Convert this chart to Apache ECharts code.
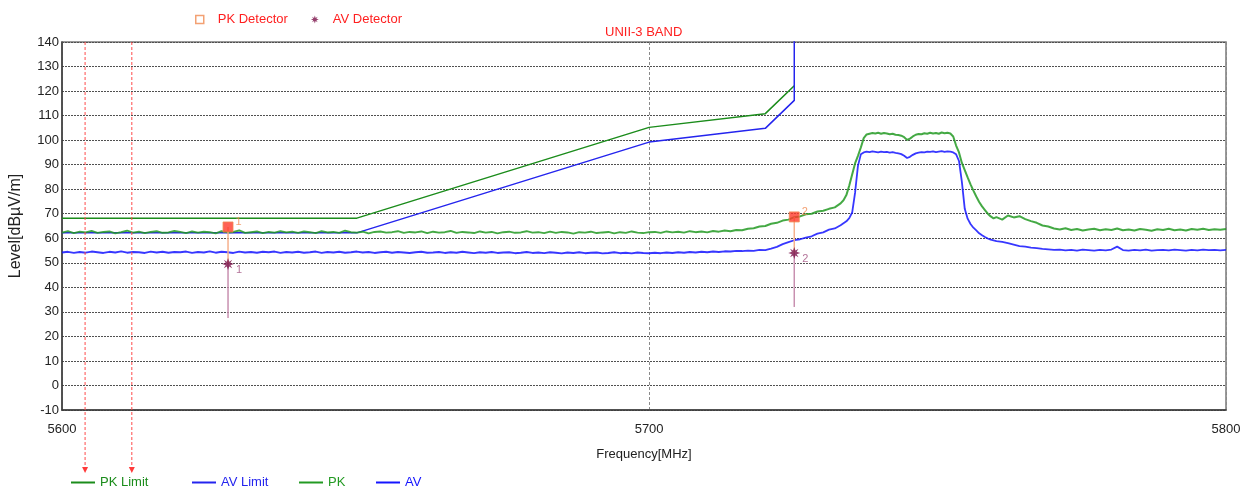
<!DOCTYPE html>
<html><head><meta charset="utf-8">
<script src="https://cdn.jsdelivr.net/npm/echarts@6/dist/echarts.min.js"></script>
<style>html,body{margin:0;padding:0;background:#fff}#c{width:1244px;height:489px}</style>
</head><body><div id="c"></div>
<script>
// ---------- DATA ----------
const freq = [
5600,5601,5602,5603,5604,5605,5606,5607,5608,5609,
5610,5611,5612,5613,5614,5615,5616,5617,5618,5619,
5620,5621,5622,5623,5624,5625,5626,5627,5628,5629,
5630,5631,5632,5633,5634,5635,5636,5637,5638,5639,
5640,5641,5642,5643,5644,5645,5646,5647,5648,5649,
5650,5651,5652,5653,5654,5655,5656,5657,5658,5659,
5660,5661,5662,5663,5664,5665,5666,5667,5668,5669,
5670,5671,5672,5673,5674,5675,5676,5677,5678,5679,
5680,5681,5682,5683,5684,5685,5686,5687,5688,5689,
5690,5691,5692,5693,5694,5695,5696,5697,5698,5699,5700,
5701,5702,5703,5704,5705,5706,5707,5708,5709,5710,
5711,5712,5713,5714,5715,5716,5717,5718,5719,5720,
5721,5722,5723,5724,5725,5726,5727,5728,5729,5730,
5731,5732,5733,
5733.5,5734,5734.5,5735,5735.5,5736,5736.5,5737,5737.5,5738,
5738.5,5739,5739.5,5740,5740.5,5741,5741.5,5742,5742.5,5743,
5743.5,5744,5744.5,5745,5745.5,5746,5746.5,5747,5747.5,5748,
5748.5,5749,5749.5,5750,5750.5,5751,5751.5,5752,5752.5,5753,
5753.5,5754,5754.5,5755,5755.5,5756,5756.5,5757,5757.5,5758,
5758.5,5759,5759.5,5760,
5761,5762,5763,5764,5765,5766,5767,5768,5769,5770,
5771,5772,5773,5774,5775,5776,5777,5778,5779,5780,
5781,5782,5783,5784,5785,5786,5787,5788,5789,5790,
5791,5792,5793,5794,5795,5796,5797,5798,5799,5800
];
const pk = [
62.3,62.9,62.1,62.7,62.4,63.0,62.2,62.6,62.8,62.0,62.5,63.1,62.3,62.7,62.1,62.6,62.9,62.2,62.4,63.0,
62.6,62.1,62.8,62.3,62.7,62.5,62.0,62.9,62.4,62.6,63.2,62.2,62.5,62.8,62.1,62.6,62.3,62.9,62.4,62.7,
62.2,62.8,62.5,62.1,62.9,62.4,62.6,62.2,63.1,62.5,62.3,62.7,62.0,62.6,62.8,62.3,62.5,62.9,62.2,62.6,
62.4,62.8,62.1,62.7,62.3,62.5,63.0,62.2,62.6,62.4,62.1,62.8,62.3,62.6,62.0,62.5,62.7,62.2,62.4,62.9,
62.3,62.5,62.1,62.7,62.2,62.6,62.4,61.9,62.5,62.3,62.7,62.1,62.4,62.6,62.0,62.5,62.2,62.8,62.3,62.1,62.5,
62.6,62.2,62.8,62.4,62.7,62.3,62.9,62.5,62.8,62.4,63.0,62.7,63.2,62.9,63.4,63.3,63.9,64.1,64.8,65.0,
65.9,66.3,67.2,67.6,68.6,68.9,69.8,70.0,70.9,71.2,72.0,72.6,74.2,
75.5,77.6,81.5,86.0,90.5,93.6,97.0,100.8,102.3,102.6,
102.9,102.7,103.0,102.6,102.9,102.7,102.4,102.6,102.2,102.1,
101.8,101.2,100.1,100.6,101.5,102.2,102.5,102.4,102.8,102.6,
103.0,102.7,102.9,102.6,103.1,102.8,103.0,102.7,101.5,97.8,
95.0,90.7,87.8,84.8,82.0,79.4,77.0,74.8,73.0,71.5,
70.0,68.9,68.1,68.6,
67.6,69.3,68.5,69.0,67.8,67.0,66.3,65.2,64.8,64.0,
63.6,64.1,63.4,63.8,63.2,63.6,63.9,63.3,63.7,63.4,
64.0,63.3,63.6,63.2,63.8,63.5,63.1,63.7,63.4,63.9,
63.3,63.6,63.2,63.8,63.5,63.9,63.4,63.7,63.5,63.8
];
const av = [
54.2,54.5,54.0,54.4,54.1,54.6,54.3,54.0,54.5,54.2,54.7,54.1,54.4,54.3,54.0,54.6,54.2,54.5,54.1,54.4,
54.3,54.6,54.0,54.4,54.2,54.7,54.1,54.5,54.3,54.0,54.6,54.2,54.4,54.1,54.5,54.3,54.6,54.0,54.4,54.2,
54.5,54.1,54.3,54.6,54.0,54.4,54.2,54.5,54.1,54.3,54.6,54.2,54.4,54.0,54.3,54.5,54.1,54.4,54.2,54.0,
54.3,54.5,54.1,54.2,54.4,54.0,54.3,54.1,54.5,54.2,53.9,54.3,54.1,54.4,54.0,54.2,54.3,53.9,54.1,54.4,
54.0,54.2,53.9,54.3,54.1,53.8,54.2,54.0,54.3,53.9,54.1,54.2,53.8,54.0,54.3,53.9,54.1,53.8,54.2,54.0,53.9,
54.1,53.9,54.2,54.0,54.3,54.1,54.4,54.2,54.5,54.3,54.6,54.4,54.7,54.6,54.9,54.8,55.0,54.9,55.3,55.2,
55.8,56.5,57.6,58.4,59.2,59.6,60.3,60.8,61.9,62.4,63.5,64.0,65.3,
66.1,66.9,68.2,70.5,78.5,89.5,94.2,95.0,95.3,95.1,
95.4,95.2,95.0,95.3,95.1,95.2,94.9,95.1,94.8,94.6,
94.3,93.6,92.7,93.2,94.0,94.6,94.9,95.1,95.0,95.3,
95.2,95.4,95.1,95.3,95.5,95.2,95.4,95.3,95.0,94.2,
91.5,83.0,72.0,68.0,65.8,64.3,63.2,62.0,61.2,60.5,
59.9,59.4,59.1,58.8,
58.5,58.0,57.4,56.8,56.6,56.2,56.0,55.7,55.5,55.3,
55.4,55.1,55.3,55.0,55.4,55.2,55.0,55.3,55.1,55.4,
56.6,55.2,55.0,55.3,55.1,55.4,55.0,55.2,55.3,55.1,
55.4,55.2,55.0,55.3,55.1,55.4,55.2,55.3,55.1,55.3
];
const pkLimitFreq  = [5600, 5650, 5700, 5720, 5725];
const pkLimitLevel = [68.2, 68.2, 105.2, 110.8, 122.2];
const avLimitFreq  = [5600, 5650, 5700, 5720, 5725, 5725];
const avLimitLevel = [62.2, 62.2, 99.2, 104.8, 116.2, 160];
const markerFreq    = [5628.1, 5725];
const pkMarkerLevel = [64.6, 68.7];
const avMarkerLevel = [49.5, 54.0];
const avStemEnd     = [27.5, 32.0];
const markerNames   = ['1', '2'];
const arrowFreq     = [5603.9, 5611.8];
const xTickValues   = [5600, 5700, 5800];
const yMin = -10, yMax = 140, yStep = 10;

// ---------- STYLE ----------
const FF = "'Liberation Sans', Arial, sans-serif";
const FS = 13;
const C_PKLIM='#1b8c1b', C_AVLIM='#2424ee', C_PK='#239a23', C_AV='#1414ff';
const C_PKM='#f08a50', C_AVM='#7a1048';
const starPath='path://M0,-10L2,-4L7,-7L4,-2L10,0L4,2L7,7L2,4L0,10L-2,4L-7,7L-4,2L-10,0L-4,-2L-7,-7L-2,-4Z';

const chart = echarts.init(document.getElementById('c'), null, {renderer:'canvas'});
const txt = (color, extra) => Object.assign({color:color, fontSize:FS, fontFamily:FF}, extra||{});

function bottomLegend(name, color, left){
  return {data:[{name:name, icon:'rect', textStyle:{color:color}}], left:left, top:476, padding:0,
    itemWidth:24, itemHeight:2, itemGap:0, selectedMode:false,
    textStyle:txt(color,{padding:[0,0,0,0]})};
}

const option = {
  animation:false,
  backgroundColor:'#fff',
  title:{text:'UNII-3 BAND', left:605, top:26, padding:0,
    textStyle:txt('#ff2020',{fontWeight:'normal'})},
  legend:[
    {data:[{name:'PK Detector', icon:'rect', itemStyle:{color:'#fff', borderColor:C_PKM, borderWidth:1.5}},
           {name:'AV Detector', icon:starPath, itemStyle:{color:C_AVM}}],
     left:195, top:13, padding:0, itemWidth:8, itemHeight:8, itemGap:23, selectedMode:false,
     textStyle:txt('#ff1f1f',{padding:[0,0,0,9]})},
    bottomLegend('PK Limit', C_PKLIM, 71),
    bottomLegend('AV Limit', C_AVLIM, 192),
    bottomLegend('PK', C_PK, 299),
    bottomLegend('AV', C_AV, 376)
  ],
  grid:{left:62, right:18, top:42, bottom:79, show:true, borderColor:'#7a7a7a', borderWidth:1.5,
    containLabel:false, outerBoundsMode:'none'},
  xAxis:{type:'log', logBase:10, min:5600, max:5800,
    name:'Frequency[MHz]', nameLocation:'middle', nameGap:38, nameTextStyle:txt('#222'),
    axisLine:{show:true, onZero:false, lineStyle:{color:'#3a3a3a', width:1.5}},
    axisTick:{show:false, customValues:xTickValues},
    axisLabel:{customValues:xTickValues, formatter:v=>String(Math.round(v)), margin:13, color:'#222', fontSize:FS, fontFamily:FF},
    splitLine:{show:true, lineStyle:{color:'#8a8a8a', type:[3,2], width:1}}
  },
  yAxis:{type:'value', min:yMin, max:yMax, interval:yStep,
    name:'Level[dBµV/m]', nameLocation:'middle', nameGap:38, nameRotate:90, nameTextStyle:txt('#222',{fontSize:16}),
    axisLine:{show:true, onZero:false, lineStyle:{color:'#3a3a3a', width:1.5}},
    axisTick:{show:false},
    axisLabel:{margin:3, color:'#222', fontSize:FS, fontFamily:FF},
    splitLine:{show:true, lineStyle:{color:'#505050', type:[2,1], width:1}}
  },
  series:[
    {name:'PK Limit', type:'line', symbol:'none', color:C_PKLIM, lineStyle:{width:1.5, color:C_PKLIM},
     data:pkLimitFreq.map((f,i)=>[f,pkLimitLevel[i]]), z:2},
    {name:'AV Limit', type:'line', symbol:'none', color:C_AVLIM, lineStyle:{width:1.5, color:C_AVLIM},
     data:avLimitFreq.map((f,i)=>[f,avLimitLevel[i]]), z:2},
    {name:'PK', type:'line', symbol:'none', color:C_PK, lineStyle:{width:2, color:C_PK, opacity:0.85},
     data:freq.map((f,i)=>[f,pk[i]]), z:3},
    {name:'AV', type:'line', symbol:'none', color:C_AV, lineStyle:{width:1.8, color:C_AV, opacity:0.85},
     data:freq.map((f,i)=>[f,av[i]]), z:3},
    {name:'stems', type:'custom', silent:true, z:4,
     data:markerFreq.map((f,i)=>[f,pkMarkerLevel[i],avMarkerLevel[i],avStemEnd[i]]),
     encode:{x:0, y:[1,2,3]},
     renderItem:function(params, api){
       const f=api.value(0);
       const p1=api.coord([f,api.value(1)]), p2=api.coord([f,api.value(2)]), p3=api.coord([f,api.value(3)]);
       return {type:'group', children:[
         {type:'line', shape:{x1:p1[0],y1:p1[1],x2:p2[0],y2:p2[1]}, style:{stroke:'#f6b08c', lineWidth:1.5}},
         {type:'line', shape:{x1:p2[0],y1:p2[1],x2:p3[0],y2:p3[1]}, style:{stroke:'#c890b0', lineWidth:1.5}}
       ]};
     }},
    {name:'PK Detector', type:'scatter', symbol:'rect', symbolSize:10, z:6,
     itemStyle:{color:'#ff3a2a', borderColor:C_PKM, borderWidth:1},
     data:markerFreq.map((f,i)=>[f,pkMarkerLevel[i]]),
     label:{show:true, position:'right', distance:2, offset:[0,-5], formatter:p=>markerNames[p.dataIndex], color:C_PKM, fontSize:11, fontFamily:FF}},
    {name:'AV Detector', type:'scatter', symbol:starPath, symbolSize:12, z:6,
     itemStyle:{color:C_AVM},
     data:markerFreq.map((f,i)=>[f,avMarkerLevel[i]]),
     label:{show:true, position:'right', distance:2, offset:[0,6], formatter:p=>markerNames[p.dataIndex], color:'#a05080', fontSize:11, fontFamily:FF}},
    {name:'arrows', type:'custom', silent:true, clip:false, z:7,
     data:arrowFreq.map(f=>[f,yMax]), encode:{x:0, y:1},
     renderItem:function(params, api){
       const p=api.coord([api.value(0), api.value(1)]);
       const yEnd=api.getHeight()-16;
       return {type:'group', children:[
         {type:'line', shape:{x1:p[0],y1:p[1],x2:p[0],y2:yEnd-5}, style:{stroke:'#ff4a4a', lineWidth:1, lineDash:[3,2]}},
         {type:'polygon', shape:{points:[[p[0]-3,yEnd-6],[p[0]+3,yEnd-6],[p[0],yEnd]]}, style:{fill:'#ff3a3a'}}
       ]};
     }}
  ]
};
chart.setOption(option);
</script>
</body></html>
